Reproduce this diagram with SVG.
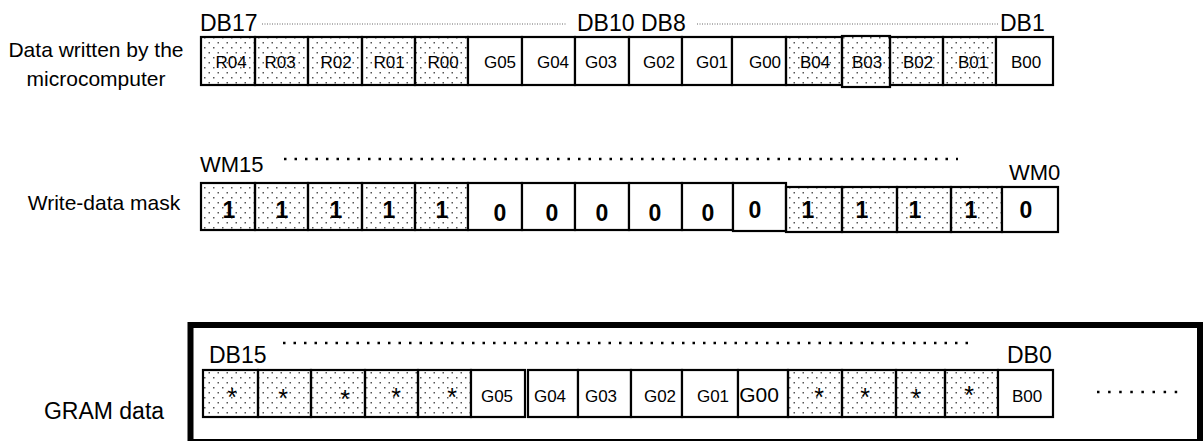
<svg xmlns="http://www.w3.org/2000/svg" width="1203" height="441" viewBox="0 0 1203 441">
<defs>
<pattern id="dots" width="9" height="10" patternUnits="userSpaceOnUse">
<rect x="1.5" y="2" width="1.5" height="1.5" fill="#555"/>
<rect x="6" y="7" width="1.5" height="1.5" fill="#555"/>
</pattern>
</defs>
<style>
.lbl{font-family:"Liberation Sans",Arial,sans-serif;font-size:21px;fill:#000}
.db{font-family:"Liberation Sans",Arial,sans-serif;font-size:23px;fill:#000}
.ct{font-family:"Liberation Sans",Arial,sans-serif;font-size:17px;fill:#000;text-anchor:middle}
.st{font-family:"Liberation Sans",Arial,sans-serif;font-size:25px;fill:#000;text-anchor:middle}
.bt{font-family:"Liberation Sans",Arial,sans-serif;font-size:23px;font-weight:bold;fill:#000;text-anchor:middle}
.c{fill:#fff;stroke:#000;stroke-width:2.2}
.p{fill:url(#dots);stroke:#000;stroke-width:2.2}
.fine{stroke:#666;stroke-width:1;stroke-dasharray:1 1.5;fill:none}
.dot{stroke:#000;stroke-width:2.5;stroke-dasharray:2.5 8;fill:none}
</style>

<g id="labels">
<text class="lbl" x="96" y="57" text-anchor="middle">Data written by the</text>
<text class="lbl" x="96" y="86" text-anchor="middle">microcomputer</text>
<text class="lbl" x="104" y="210" text-anchor="middle">Write-data mask</text>
<text x="104" y="419" text-anchor="middle" style="font-family:'Liberation Sans',Arial,sans-serif;font-size:23px">GRAM data</text>
</g>

<g id="row1">
<text class="db" x="200" y="31">DB17</text>
<line class="fine" x1="262" y1="24" x2="566" y2="24"/>
<text class="db" x="577" y="31">DB10</text>
<text class="db" x="641" y="31">DB8</text>
<line class="fine" x1="697" y1="24" x2="998" y2="24"/>
<text class="db" x="1000" y="31">DB1</text>
<rect class="p" x="201" y="37" width="54" height="48"/>
<rect class="p" x="255" y="37" width="53" height="48"/>
<rect class="p" x="308" y="37" width="54" height="48"/>
<rect class="p" x="362" y="37" width="53" height="48"/>
<rect class="p" x="415" y="37" width="53" height="48"/>
<rect class="c" x="468" y="37" width="54" height="48"/>
<rect class="c" x="522" y="37" width="53" height="48"/>
<rect class="c" x="575" y="37" width="54" height="48"/>
<rect class="c" x="629" y="37" width="53" height="48"/>
<rect class="c" x="682" y="37" width="50" height="48"/>
<rect class="c" x="732" y="37" width="54" height="48"/>
<rect class="p" x="786" y="37" width="56" height="48"/>
<rect class="p" x="842" y="36" width="48" height="51"/>
<rect class="p" x="890" y="37" width="53" height="48"/>
<rect class="p" x="943" y="37" width="53" height="48"/>
<rect class="c" x="996" y="37" width="57" height="48"/>
<text class="ct" x="231" y="68">R04</text>
<text class="ct" x="280" y="68">R03</text>
<text class="ct" x="336" y="68">R02</text>
<text class="ct" x="389" y="68">R01</text>
<text class="ct" x="443" y="68">R00</text>
<text class="ct" x="500" y="68">G05</text>
<text class="ct" x="553" y="68">G04</text>
<text class="ct" x="601" y="68">G03</text>
<text class="ct" x="659" y="68">G02</text>
<text class="ct" x="712" y="68">G01</text>
<text class="ct" x="765" y="68">G00</text>
<text class="ct" x="815" y="68">B04</text>
<text class="ct" x="867" y="68">B03</text>
<text class="ct" x="918" y="68">B02</text>
<text class="ct" x="973" y="68">B01</text>
<text class="ct" x="1026" y="68">B00</text>
</g>

<g id="row2">
<text class="db" x="200" y="172" style="font-size:22px">WM15</text>
<line class="dot" x1="284" y1="159" x2="958" y2="159"/>
<text class="db" x="1009" y="180" style="font-size:22px">WM0</text>
<rect class="p" x="201" y="183" width="54" height="47"/>
<rect class="p" x="255" y="183" width="53" height="47"/>
<rect class="p" x="308" y="183" width="54" height="47"/>
<rect class="p" x="362" y="183" width="53" height="47"/>
<rect class="p" x="415" y="183" width="53" height="47"/>
<rect class="c" x="468" y="183" width="54" height="47"/>
<rect class="c" x="522" y="183" width="53" height="47"/>
<rect class="c" x="575" y="183" width="54" height="47"/>
<rect class="c" x="629" y="183" width="53" height="47"/>
<rect class="c" x="682" y="183" width="51" height="47"/>
<rect class="c" x="733" y="183" width="53" height="48"/>
<rect class="p" x="786" y="187" width="56" height="45"/>
<rect class="p" x="842" y="187" width="55" height="45"/>
<rect class="p" x="897" y="187" width="54" height="45"/>
<rect class="p" x="951" y="187" width="51" height="45"/>
<rect class="c" x="1002" y="187" width="56" height="45"/>
<text class="bt" x="229" y="218">1</text>
<text class="bt" x="282" y="218">1</text>
<text class="bt" x="336" y="218">1</text>
<text class="bt" x="389" y="218">1</text>
<text class="bt" x="442" y="218">1</text>
<text class="bt" x="500" y="221">0</text>
<text class="bt" x="552" y="221">0</text>
<text class="bt" x="602" y="221">0</text>
<text class="bt" x="655" y="221">0</text>
<text class="bt" x="708" y="221">0</text>
<text class="bt" x="755" y="218">0</text>
<text class="bt" x="808" y="218">1</text>
<text class="bt" x="862" y="218">1</text>
<text class="bt" x="915" y="218">1</text>
<text class="bt" x="971" y="218">1</text>
<text class="bt" x="1026" y="218">0</text>
</g>

<g id="gram">
<rect x="190.5" y="325" width="1009.5" height="117" fill="none" stroke="#000" stroke-width="6"/>
<text class="db" x="209" y="363">DB15</text>
<line class="dot" x1="283" y1="343" x2="975" y2="343"/>
<text class="db" x="1007" y="363">DB0</text>
<rect class="p" x="203" y="370" width="55" height="47"/>
<rect class="p" x="258" y="370" width="53" height="47"/>
<rect class="p" x="311" y="370" width="54" height="47"/>
<rect class="p" x="365" y="370" width="53" height="47"/>
<rect class="p" x="418" y="370" width="53" height="47"/>
<rect class="c" x="471" y="370" width="54" height="47"/>
<rect class="c" x="528" y="370" width="50" height="47"/>
<rect class="c" x="578" y="370" width="53" height="47"/>
<rect class="c" x="631" y="370" width="51" height="47"/>
<rect class="c" x="682" y="370" width="56" height="47"/>
<rect class="c" x="738" y="370" width="50" height="47"/>
<rect class="p" x="788" y="370" width="54" height="47"/>
<rect class="p" x="842" y="370" width="54" height="47"/>
<rect class="p" x="896" y="370" width="49" height="47"/>
<rect class="p" x="945" y="370" width="53" height="47"/>
<rect class="c" x="998" y="370" width="55" height="47"/>
<text class="st" x="232" y="406">*</text>
<text class="st" x="283" y="407">*</text>
<text class="st" x="345" y="408">*</text>
<text class="st" x="396" y="406">*</text>
<text class="st" x="452" y="406">*</text>
<text class="ct" x="497" y="402">G05</text>
<text class="ct" x="550" y="402">G04</text>
<text class="ct" x="601" y="402">G03</text>
<text class="ct" x="660" y="402">G02</text>
<text class="ct" x="713" y="402">G01</text>
<text class="ct" x="759" y="402" style="font-size:21px">G00</text>
<text class="st" x="819" y="406">*</text>
<text class="st" x="865" y="406">*</text>
<text class="st" x="916" y="407">*</text>
<text class="st" x="969" y="404">*</text>
<text class="ct" x="1027" y="402">B00</text>
<line class="dot" x1="1097" y1="392" x2="1180" y2="392" style="stroke-dasharray:2.5 8.6"/>
</g>
</svg>
